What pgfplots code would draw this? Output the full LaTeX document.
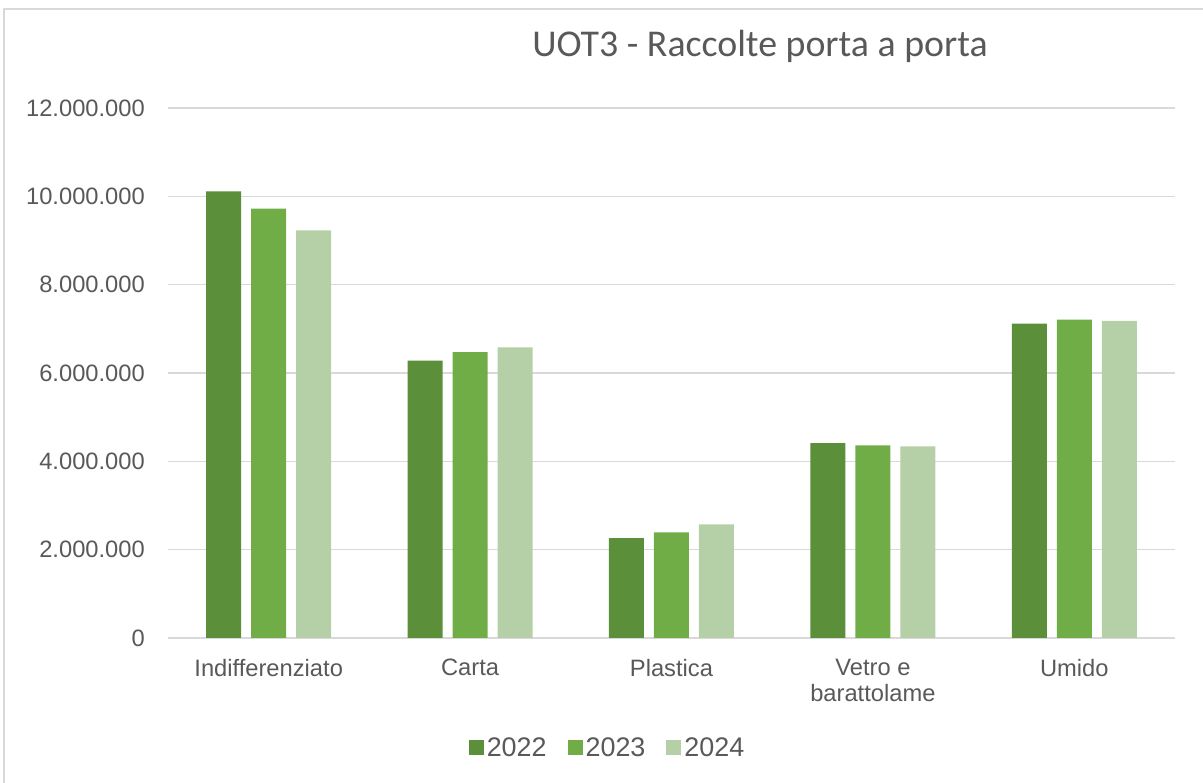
\documentclass[border=0pt]{standalone}
\usepackage{pgfplots}
\pgfplotsset{compat=1.18}
\usepackage{fontspec}
\setmainfont{Liberation Sans}
\newfontfamily\titlefont{Carlito}
\definecolor{c22}{HTML}{5B8F39}
\definecolor{c23}{HTML}{70AD47}
\definecolor{c24}{HTML}{B5CFA7}
\definecolor{txt}{HTML}{595959}
\definecolor{grd}{HTML}{D9D9D9}
\begin{document}
\begin{tikzpicture}[x=1bp,y=1bp]
\useasboundingbox (0,0) rectangle (1203,783);
\draw[grd, line width=1.5bp] (4,-10) rectangle (1215,774);
\begin{axis}[
  at={(168bp,145bp)}, anchor=south west, scale only axis,
  width=1007bp, height=530bp,
  xmin=-0.5, xmax=4.5, ymin=0, ymax=12000000,
  ybar,
  axis line style={draw=none},
  major tick length=0pt,
  ymajorgrids, grid style={grd, line width=1.5bp},
  ytick={0,2000000,4000000,6000000,8000000,10000000,12000000},
  yticklabels={0,2.000.000,4.000.000,6.000.000,8.000.000,10.000.000,12.000.000},
  scaled y ticks=false,
  xtick={0,1,2,3,4},
  xticklabels={Indifferenziato,Carta,Plastica,{Vetro e\\barattolame},Umido},
  yticklabel style={anchor=east, inner sep=0pt, xshift=-23bp, font=\fontsize{23.8}{26}\selectfont, text=txt},
  xticklabel style={anchor=north, inner sep=0pt, yshift=-21bp, align=center, font=\fontsize{23.8}{26}\selectfont, text=txt},
  legend columns=3,
  legend style={at={(0.437,-0.2075)}, anchor=center, draw=none, fill=none,
    font=\fontsize{27}{30}\selectfont, text=txt,
    nodes={inner xsep=3bp},
    /tikz/every even column/.append style={column sep=18bp}},
  legend image code/.code={\fill[#1] (0bp,-7.5bp) rectangle (15bp,7.5bp);},
]
\addplot[fill=c22, draw=none, bar width=35bp, bar shift=-45bp] coordinates {(0,10110000) (1,6280000) (2,2260000) (3,4410000) (4,7120000)};
\addplot[fill=c23, draw=none, bar width=35bp, bar shift=0bp] coordinates {(0,9720000) (1,6470000) (2,2390000) (3,4360000) (4,7210000)};
\addplot[fill=c24, draw=none, bar width=35bp, bar shift=45bp] coordinates {(0,9230000) (1,6580000) (2,2570000) (3,4340000) (4,7180000)};
\legend{2022,2023,2024}
\end{axis}
\node[anchor=base, font=\titlefont\fontsize{38}{44}\selectfont, text=txt] at (760,726) {UOT3 - Raccolte porta a porta};
\end{tikzpicture}
\end{document}
